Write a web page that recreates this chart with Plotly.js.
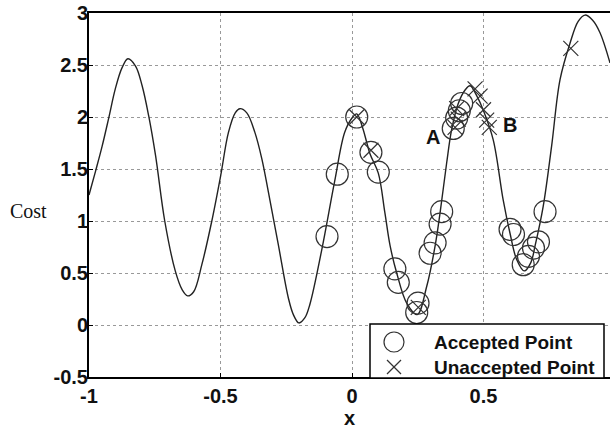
<!DOCTYPE html>
<html>
<head>
<meta charset="utf-8">
<script src="https://cdn.plot.ly/plotly-3.0.1.min.js"></script>
<style>html,body{margin:0;padding:0;background:#fff;}#chart{width:610px;height:429px;}</style>
</head>
<body>
<div id="chart"></div>
<script>
// Cost curve
var curveX = [-1.0,-0.975,-0.950,-0.925,-0.900,-0.875,-0.852,-0.823,-0.798,-0.773,-0.747,-0.712,-0.672,-0.646,-0.625,-0.602,-0.571,-0.533,-0.499,-0.470,-0.444,-0.426,-0.400,-0.369,-0.343,-0.318,-0.280,-0.242,-0.223,-0.202,-0.179,-0.160,-0.116,-0.066,-0.028,0.0,0.018,0.040,0.068,0.100,0.125,0.145,0.170,0.208,0.248,0.284,0.316,0.335,0.360,0.379,0.404,0.430,0.449,0.475,0.500,0.537,0.575,0.601,0.626,0.655,0.680,0.696,0.727,0.759,0.791,0.829,0.860,0.886,0.915,0.943,0.981];
var curveY = [1.25,1.48,1.72,1.99,2.27,2.47,2.56,2.49,2.30,2.01,1.63,1.00,0.52,0.34,0.28,0.32,0.58,1.00,1.44,1.85,2.04,2.08,2.04,1.85,1.60,1.28,0.77,0.26,0.10,0.02,0.07,0.20,0.71,1.38,1.85,1.99,2.03,1.90,1.65,1.46,1.08,0.76,0.50,0.21,0.10,0.37,0.76,1.08,1.56,1.88,2.13,2.26,2.30,2.20,2.06,1.78,1.20,0.88,0.63,0.52,0.60,0.76,1.14,1.72,2.36,2.71,2.92,2.98,2.93,2.81,2.52];

// Accepted points (circles)
var accX = [-0.095,-0.056,0.018,0.072,0.100,0.163,0.176,0.251,0.246,0.297,0.316,0.335,0.341,0.385,0.398,0.408,0.417,0.601,0.614,0.651,0.671,0.690,0.709,0.734];
var accY = [0.85,1.45,2.00,1.66,1.47,0.54,0.41,0.21,0.12,0.69,0.79,0.97,1.09,1.89,1.99,2.06,2.13,0.92,0.87,0.58,0.66,0.74,0.80,1.09];

// Unaccepted points (crosses)
var unaccX = [0.018,0.072,0.252,0.392,0.398,0.404,0.468,0.487,0.500,0.512,0.522,0.832];
var unaccY = [2.00,1.68,0.17,1.90,2.08,1.98,2.27,2.20,2.07,1.97,1.90,2.66];

// Legend labels
var seriesNames = ["Accepted Point","Unaccepted Point"];

var xTicks = [-1,-0.5,0,0.5,1];
var xTickText = ["-1","-0.5","0","0.5","1"];
var yTicks = [-0.5,0,0.5,1,1.5,2,2.5,3];
var yTickText = ["-0.5","0","0.5","1","1.5","2","2.5","3"];

var boldFont = {family:'Arial, "Liberation Sans", sans-serif', size:20, color:'#111', weight:'bold'};
var legendFont = {family:'Arial, "Liberation Sans", sans-serif', size:19, color:'#111', weight:'bold'};
var markColor = '#333';

var traces = [
  {x:curveX, y:curveY, type:'scatter', mode:'lines', showlegend:false,
   line:{color:'#222', width:1.4, shape:'spline', smoothing:1}},
  {x:accX, y:accY, type:'scatter', mode:'markers', name:seriesNames[0], showlegend:false,
   marker:{symbol:'circle-open', size:22, color:markColor, line:{width:1.2, color:markColor}}},
  {x:unaccX, y:unaccY, type:'scatter', mode:'markers', name:seriesNames[1], showlegend:false,
   marker:{symbol:'x-thin-open', size:15, color:markColor, line:{width:1.2, color:markColor}}}
];

// pixel -> paper helpers for the legend box (plot area: 89..610 x, 13..377 y)
function px(v){ return (v-89)/521; }
function py(v){ return (377-v)/364; }

var layout = {
  width:610, height:429,
  margin:{l:89, r:0, t:13, b:52, pad:0},
  paper_bgcolor:'#fff', plot_bgcolor:'#fff',
  showlegend:false,
  xaxis:{range:[-1,0.981], tickvals:xTicks, ticktext:xTickText, showline:true, mirror:true,
         linecolor:'#000', linewidth:2, ticks:'inside', ticklen:4, tickcolor:'#000',
         showgrid:true, gridcolor:'#999', griddash:'dot', gridwidth:1, zeroline:false,
         tickfont:boldFont, title:{text:'x', font:boldFont, standoff:4}},
  yaxis:{range:[-0.5,3], tickvals:yTicks, ticktext:yTickText, showline:true, mirror:false,
         linecolor:'#000', linewidth:2, ticks:'inside', ticklen:4, tickcolor:'#000',
         showgrid:true, gridcolor:'#999', griddash:'dot', gridwidth:1, zeroline:false,
         tickfont:boldFont, ticklabelstandoff:-5},
  shapes:[
    {type:'rect', xref:'paper', yref:'paper', x0:px(370), x1:px(604), y0:py(378), y1:py(324),
     line:{color:'#000', width:1.5}, fillcolor:'#fff', layer:'above'},
    {type:'circle', xref:'paper', yref:'paper', x0:px(384), x1:px(404), y0:py(352), y1:py(332),
     line:{color:markColor, width:1.2}, layer:'above'},
    {type:'line', xref:'paper', yref:'paper', x0:px(387), x1:px(401), y0:py(360), y1:py(374),
     line:{color:markColor, width:1.2}, layer:'above'},
    {type:'line', xref:'paper', yref:'paper', x0:px(387), x1:px(401), y0:py(374), y1:py(360),
     line:{color:markColor, width:1.2}, layer:'above'}
  ],
  annotations:[
    {x:0.309, y:1.81, xref:'x', yref:'y', text:'A', showarrow:false, font:boldFont},
    {x:0.601, y:1.92, xref:'x', yref:'y', text:'B', showarrow:false, font:boldFont},
    {x:-0.117, y:0.456, xref:'paper', yref:'paper', text:'Cost', showarrow:false,
     xanchor:'center', yanchor:'middle',
     font:{family:'"Liberation Serif", "Times New Roman", serif', size:20, color:'#111'}},
    {x:px(432), y:py(342), xref:'paper', yref:'paper', text:seriesNames[0], showarrow:false,
     xanchor:'left', yanchor:'middle', font:legendFont},
    {x:px(432), y:py(367), xref:'paper', yref:'paper', text:seriesNames[1], showarrow:false,
     xanchor:'left', yanchor:'middle', font:legendFont}
  ]
};

Plotly.newPlot('chart', traces, layout, {staticPlot:true, displayModeBar:false});
</script>
</body>
</html>
